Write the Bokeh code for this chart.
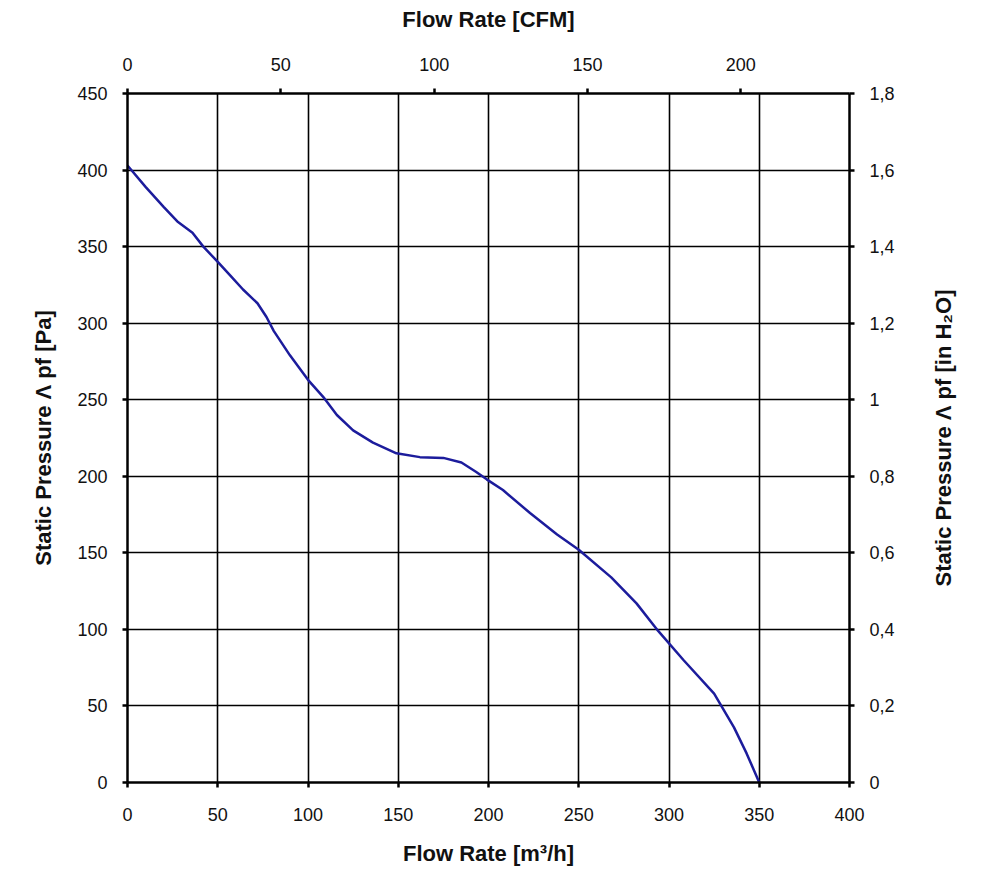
from bokeh.plotting import figure
from bokeh.models import LinearAxis, Range1d, FixedTicker, Title
from bokeh.layouts import row
from bokeh.embed import file_html
from bokeh.resources import INLINE

# Fan performance curve: static pressure vs. volume flow
flow_m3h = [0, 10, 20, 28, 36, 42, 50, 57, 64, 72, 77, 81, 90, 100, 109, 116,
            125, 136, 149, 162, 175, 185, 193, 199, 208, 223, 238, 250, 268,
            282, 294, 308, 325, 336, 343, 350]
pressure_pa = [403, 389, 376, 366, 359, 350, 340, 331, 322, 313, 304, 295, 279,
               263, 251, 240, 230, 222, 215, 212.5, 212, 209, 203, 198, 191,
               176, 162, 152, 134, 117, 99, 80, 58, 36, 19, 0]

x_ticks = [0, 50, 100, 150, 200, 250, 300, 350, 400]
y_ticks = [0, 50, 100, 150, 200, 250, 300, 350, 400, 450]
cfm_ticks = [0, 50, 100, 150, 200]
inh2o_ticks = [0, 0.2, 0.4, 0.6, 0.8, 1.0, 1.2, 1.4, 1.6, 1.8]
inh2o_labels = ["0", "0,2", "0,4", "0,6", "0,8", "1", "1,2", "1,4", "1,6", "1,8"]

M3H_PER_CFM = 1.699
PA_PER_INH2O = 250.0

FONT = "Liberation Sans"
TOP, BOTTOM = 93, 103

p = figure(width=920, height=885, output_backend="svg", toolbar_location=None,
           x_range=Range1d(0, 400), y_range=Range1d(0, 450),
           x_axis_location=None, y_axis_location=None,
           min_border_left=127, min_border_right=71,
           min_border_top=TOP, min_border_bottom=BOTTOM)
p.outline_line_color = None
p.background_fill_color = "white"
p.border_fill_color = "white"

p.extra_x_ranges = {"cfm": Range1d(0, 400 / M3H_PER_CFM)}
p.extra_y_ranges = {"inh2o": Range1d(0, 450 / PA_PER_INH2O)}


def style(ax, standoff):
    ax.axis_line_color = "black"
    ax.axis_line_width = 2.5
    ax.major_tick_line_color = "black"
    ax.major_tick_line_width = 2.5
    ax.major_tick_out = 5
    ax.major_tick_in = 0
    ax.minor_tick_line_color = None
    ax.major_label_text_font = FONT
    ax.major_label_text_font_size = "18px"
    ax.major_label_text_color = "#111111"
    ax.major_label_standoff = standoff
    ax.axis_label_text_font = FONT
    ax.axis_label_text_font_style = "bold"
    ax.axis_label_text_font_size = "22px"
    ax.axis_label_text_color = "#111111"


bottom = LinearAxis(ticker=FixedTicker(ticks=x_ticks), axis_label="Flow Rate [m³/h]")
style(bottom, 20)
bottom.axis_label_standoff = 17
p.add_layout(bottom, "below")

top = LinearAxis(x_range_name="cfm", ticker=FixedTicker(ticks=cfm_ticks),
                 axis_label="Flow Rate [CFM]")
style(top, 18)
top.axis_label_standoff = 23
p.add_layout(top, "above")

left = LinearAxis(ticker=FixedTicker(ticks=y_ticks), axis_label="Static Pressure Λ pf [Pa]")
style(left, 15)
left.axis_label_standoff = 18
p.add_layout(left, "left")

right = LinearAxis(y_range_name="inh2o", ticker=FixedTicker(ticks=inh2o_ticks))
style(right, 15)
right.major_label_overrides = {t: s for t, s in zip(inh2o_ticks, inh2o_labels)}
p.add_layout(right, "right")

p.xgrid.ticker = FixedTicker(ticks=x_ticks)
p.ygrid.ticker = FixedTicker(ticks=y_ticks)
for g in (p.xgrid, p.ygrid):
    g.grid_line_color = "black"
    g.grid_line_width = 1.6
    g.grid_line_alpha = 1.0

p.line(flow_m3h, pressure_pa, line_color="#1c1c9c", line_width=2.5)

# narrow strip carrying the in H2O axis title, reading bottom to top
side = figure(width=80, height=885, output_backend="svg", toolbar_location=None,
              x_range=Range1d(0, 1), y_range=Range1d(0, 1),
              x_axis_location=None, y_axis_location=None,
              min_border_left=40, min_border_right=0,
              min_border_top=TOP, min_border_bottom=BOTTOM)
side.outline_line_color = None
side.xgrid.visible = False
side.ygrid.visible = False
side.border_fill_color = "white"
side.add_layout(Title(text="Static Pressure Λ pf [in H₂O]", align="center",
                      text_font=FONT, text_font_style="bold",
                      text_font_size="22px", text_color="#111111"), "left")

layout = row(p, side, spacing=0)

open("out.html", "w").write(file_html(layout, INLINE))
